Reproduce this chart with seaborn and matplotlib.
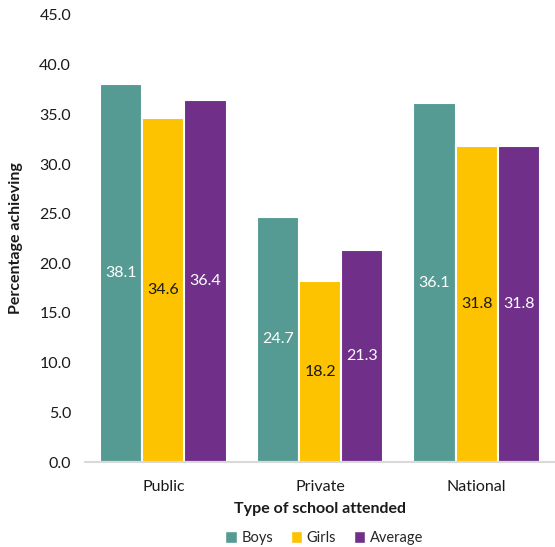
import matplotlib
matplotlib.use("Agg")
import matplotlib.pyplot as plt
import seaborn as sns
import pandas as pd
from matplotlib.patches import Patch

schools = ["Public", "Private", "National"]
groups = ["Boys", "Girls", "Average"]
boys = [38.1, 24.7, 36.1]
girls = [34.6, 18.2, 31.8]
average = [36.4, 21.3, 31.8]

palette = {"Boys": "#559B94", "Girls": "#FDC200", "Average": "#70308A"}
label_colors = {"Boys": "white", "Girls": "#1a1a1a", "Average": "white"}

df = pd.DataFrame({
    "school": schools * 3,
    "group": ["Boys"] * 3 + ["Girls"] * 3 + ["Average"] * 3,
    "value": boys + girls + average,
})

sns.set_theme(style="white")
plt.rcParams["font.family"] = ["Lato", "DejaVu Sans"]

fig = plt.figure(figsize=(5.55, 5.47), dpi=100)
ax = fig.add_axes([85 / 555, 1 - 462 / 547, 470 / 555, 447 / 547])

sns.barplot(data=df, x="school", y="value", hue="group", order=schools,
            hue_order=groups, palette=palette, width=0.81, saturation=1,
            edgecolor="white", linewidth=1.5, legend=False, ax=ax)

for container, g in zip(ax.containers, groups):
    ax.bar_label(container, labels=[f"{v:.1f}" for v in container.datavalues],
                 label_type="center", color=label_colors[g], fontsize=11.5)

ax.set_ylim(0, 45)
ax.set_yticks([0, 5, 10, 15, 20, 25, 30, 35, 40, 45])
ax.set_yticklabels([f"{t:.1f}" for t in ax.get_yticks()], fontsize=11.5, color="#1a1a1a")
ax.set_xlim(-0.5, 2.5)
ax.tick_params(axis="x", labelsize=11.5, colors="#1a1a1a", length=0, pad=13)
ax.tick_params(axis="y", length=0, pad=10)

for s in ["top", "right", "left"]:
    ax.spines[s].set_visible(False)
ax.spines["bottom"].set_color("#d9d9d9")
ax.spines["bottom"].set_linewidth(1.5)

ax.set_xlabel("Type of school attended", fontsize=11.5, fontweight="bold",
              color="#1a1a1a", labelpad=6)
ax.set_ylabel("Percentage achieving", fontsize=11.5, fontweight="bold",
              color="#1a1a1a", labelpad=12)

handles = [Patch(facecolor=palette[g], label=g) for g in groups]
fig.legend(handles=handles, loc="center", bbox_to_anchor=(0.584, 1 - 538 / 547),
           ncol=3, frameon=False, fontsize=10.5, handlelength=0.8, handleheight=0.8,
           handletextpad=0.3, columnspacing=1.2)

fig.savefig("out.png", dpi=100)
